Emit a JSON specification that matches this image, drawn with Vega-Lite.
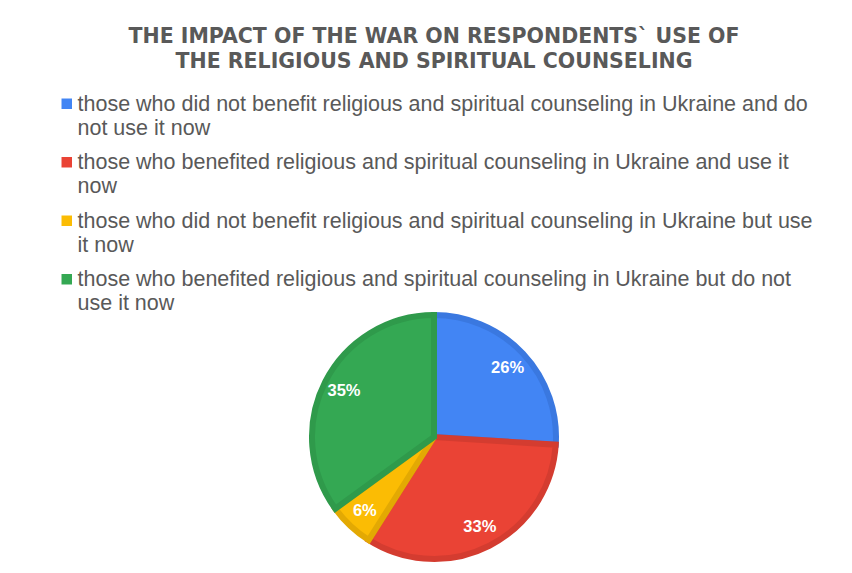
{
  "$schema": "https://vega.github.io/schema/vega-lite/v6.json",
  "width": 250,
  "height": 250,
  "autosize": {"type": "none"},
  "padding": {"left": 309, "top": 312, "right": 293, "bottom": 11},
  "background": "white",
  "title": {
    "text": ["THE IMPACT OF THE WAR ON RESPONDENTS`  USE OF", "THE RELIGIOUS AND SPIRITUAL COUNSELING"],
    "anchor": "middle",
    "frame": "group",
    "font": "DejaVu Sans",
    "fontSize": 20.5,
    "fontWeight": "bold",
    "color": "#595959",
    "lineHeight": 25,
    "offset": 21
  },
  "data": {
    "values": [
      {"cat": "those who did not benefit religious and spiritual counseling in Ukraine and do|not use it now", "share": 0.26, "order": 1},
      {"cat": "those who benefited religious and spiritual counseling in Ukraine and use it|now", "share": 0.33, "order": 2},
      {"cat": "those who did not benefit religious and spiritual counseling in Ukraine but use|it now", "share": 0.06, "order": 3},
      {"cat": "those who benefited religious and spiritual counseling in Ukraine but do not|use it now", "share": 0.35, "order": 4}
    ]
  },
  "encoding": {
    "theta": {"field": "share", "type": "quantitative", "stack": true},
    "order": {"field": "order", "type": "quantitative"}
  },
  "layer": [
    {
      "mark": {"type": "arc", "outerRadius": 122, "strokeWidth": 6},
      "encoding": {
        "color": {
          "field": "cat",
          "type": "nominal",
          "sort": null,
          "scale": {
            "domain": [
              "those who did not benefit religious and spiritual counseling in Ukraine and do|not use it now",
              "those who benefited religious and spiritual counseling in Ukraine and use it|now",
              "those who did not benefit religious and spiritual counseling in Ukraine but use|it now",
              "those who benefited religious and spiritual counseling in Ukraine but do not|use it now"
            ],
            "range": ["#4285F4", "#EA4335", "#FBBC04", "#34A853"]
          },
          "legend": {
            "orient": "none",
            "legendX": -253,
            "legendY": -219,
            "title": null,
            "padding": 0,
            "symbolType": "square",
            "symbolSize": 110,
            "symbolStrokeWidth": 0,
            "labelExpr": "split(datum.label, '|')",
            "labelFont": "Liberation Sans",
            "labelFontSize": 21.5,
            "labelColor": "#595959",
            "labelLimit": 0,
            "labelOffset": 0,
            "labelBaseline": "alphabetic",
            "rowPadding": 11.5,
            "encode": {"labels": {"update": {"dy": {"value": 7}}}}
          }
        },
        "stroke": {
          "field": "cat",
          "type": "nominal",
          "sort": null,
          "scale": {
            "domain": [
              "those who did not benefit religious and spiritual counseling in Ukraine and do|not use it now",
              "those who benefited religious and spiritual counseling in Ukraine and use it|now",
              "those who did not benefit religious and spiritual counseling in Ukraine but use|it now",
              "those who benefited religious and spiritual counseling in Ukraine but do not|use it now"
            ],
            "range": ["#3A78E0", "#D43C30", "#E3A903", "#2F9A4B"]
          },
          "legend": null
        }
      }
    },
    {
      "mark": {"type": "text", "radius": 101, "font": "Liberation Sans", "fontSize": 16.5, "fontWeight": "bold", "color": "white"},
      "encoding": {
        "text": {"field": "share", "type": "quantitative", "format": ".0%"}
      }
    }
  ],
  "config": {
    "view": {"stroke": null},
    "style": {"guide-label": {"lineHeight": 24}}
  }
}
